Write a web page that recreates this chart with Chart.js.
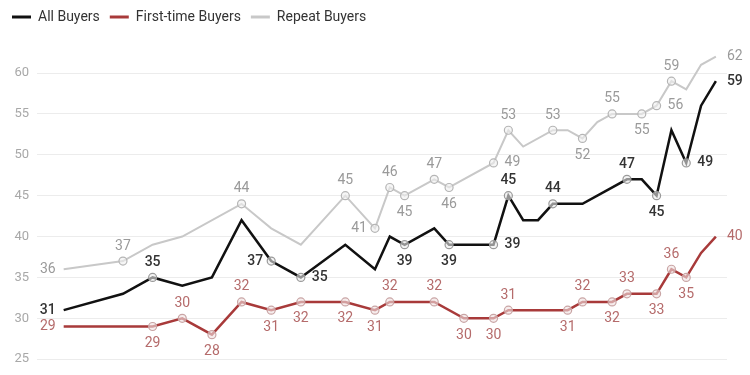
<!DOCTYPE html>
<html>
<head>
<meta charset="utf-8">
<script src="https://cdn.jsdelivr.net/npm/chart.js@4"></script>
<style>
  html, body { margin: 0; padding: 0; background: #fff; }
  #wrap { width: 750px; height: 375px; }
</style>
</head>
<body>
<div id="wrap"><canvas id="ageChart" width="750" height="375"></canvas></div>
<script>
// valori (anno, eta mediana)
var allYears = [1981, 1985, 1987, 1989, 1991, 1993, 1995, 1997, 2000, 2002, 2003, 2004, 2006, 2007, 2010, 2011, 2012, 2013, 2014, 2016, 2019, 2020, 2021, 2022, 2023, 2024, 2025];
var allValues = [31, 33, 35, 34, 35, 42, 37, 35, 39, 36, 40, 39, 41, 39, 39, 45, 42, 42, 44, 44, 47, 47, 45, 53, 49, 56, 59];
var allLabels = ["l", "", "a", "", "", "", "l", "r", "", "", "", "b", "", "b", "r", "a", "", "", "a", "", "a", "", "b", "", "r", "", "r"];

var firstYears = [1981, 1987, 1989, 1991, 1993, 1995, 1997, 2000, 2002, 2003, 2006, 2008, 2010, 2011, 2015, 2016, 2018, 2019, 2021, 2022, 2023, 2024, 2025];
var firstValues = [29, 29, 30, 28, 32, 31, 32, 32, 31, 32, 32, 30, 30, 31, 31, 32, 32, 33, 33, 36, 35, 38, 40];
var firstLabels = ["l", "b", "a", "b", "a", "b", "b", "b", "b", "a", "a", "b", "b", "a", "b", "a", "b", "a", "b", "a", "b", "", "r"];

var repeatYears = [1981, 1985, 1987, 1989, 1993, 1995, 1997, 2000, 2002, 2003, 2004, 2006, 2007, 2010, 2011, 2012, 2014, 2015, 2016, 2017, 2018, 2020, 2021, 2022, 2023, 2024, 2025];
var repeatValues = [36, 37, 39, 40, 44, 41, 39, 45, 41, 46, 45, 47, 46, 49, 53, 51, 53, 53, 52, 54, 55, 55, 56, 59, 58, 61, 62];
var repeatLabels = ["l", "a", "", "", "a", "", "", "a", "l", "a", "b", "a", "b", "r", "a", "", "a", "", "b", "", "a", "b", "r", "a", "", "", "r"];

var yTicks = [25, 30, 35, 40, 45, 50, 55, 60];

//funzione per costruire i punti
function toPoints(years, values) {
  return years.map(function(y, i) { return { x: y, y: values[i] }; });
}

//marker solo sui punti con etichetta (non agli estremi)
function markerRadius(labels) {
  return labels.map(function(p, i) {
    return (p && i > 0 && i < labels.length - 1) ? 4 : 0;
  });
}

//etichette dei valori vicino ai punti
var labelPlugin = {
  id: "pointLabels",
  afterDatasetsDraw: function(chart) {
    var ctx = chart.ctx;
    chart.data.datasets.forEach(function(ds, di) {
      var meta = chart.getDatasetMeta(di);
      ctx.save();
      ctx.font = (ds.labelWeight || "400") + " 14px Roboto";
      ctx.fillStyle = ds.labelColor;
      ctx.textBaseline = "middle";
      ds.labelPos.forEach(function(pos, i) {
        if (!pos) return;
        var pt = meta.data[i];
        var txt = String(ds.data[i].y);
        var x = pt.x, y = pt.y;
        if (pos === "a") { ctx.textAlign = "center"; y -= 15; }
        else if (pos === "b") { ctx.textAlign = "center"; y += 17; }
        else if (pos === "l") { ctx.textAlign = "right"; x -= 8; }
        else { ctx.textAlign = "left"; x += 11; }
        ctx.fillText(txt, x, y);
      });
      ctx.restore();
    });
  }
};

//spazio extra sotto la legenda
var legendGap = {
  id: "legendGap",
  beforeLayout: function(chart) {
    var lg = chart.legend;
    if (lg && !lg._gapDone) {
      var origFit = lg.fit;
      lg.fit = function() {
        origFit.apply(this, arguments);
        this.height += 39;
      };
      lg._gapDone = true;
    }
  }
};

var ctx = document.getElementById("ageChart");
var chart = new Chart(ctx, {
  type: "line",
  data: {
    datasets: [
      {
        label: "All Buyers",
        data: toPoints(allYears, allValues),
        labelPos: allLabels,
        labelColor: "#333333",
        labelWeight: "500",
        borderColor: "#111111",
        backgroundColor: "#111111",
        borderWidth: 2.5,
        pointRadius: markerRadius(allLabels),
        pointBackgroundColor: "rgba(235,235,235,0.6)",
        pointBorderColor: "#9a9a9a",
        pointBorderWidth: 1.2,
        order: 1
      },
      {
        label: "First-time Buyers",
        data: toPoints(firstYears, firstValues),
        labelPos: firstLabels,
        labelColor: "#b56b6b",
        borderColor: "#a83a3a",
        backgroundColor: "#a83a3a",
        borderWidth: 2.5,
        pointRadius: markerRadius(firstLabels),
        pointBackgroundColor: "rgba(240,225,225,0.6)",
        pointBorderColor: "#c9a5a5",
        pointBorderWidth: 1.2,
        order: 2
      },
      {
        label: "Repeat Buyers",
        data: toPoints(repeatYears, repeatValues),
        labelPos: repeatLabels,
        labelColor: "#9a9a9a",
        borderColor: "#c8c8c8",
        backgroundColor: "#c8c8c8",
        borderWidth: 2,
        pointRadius: markerRadius(repeatLabels),
        pointBackgroundColor: "rgba(240,240,240,0.6)",
        pointBorderColor: "#b5b5b5",
        pointBorderWidth: 1.2,
        order: 3
      }
    ]
  },
  options: {
    responsive: false,
    animation: false,
    layout: { padding: { top: 0, right: 23, bottom: 15, left: 2 } },
    elements: { line: { tension: 0, fill: false } },
    datasets: { line: { clip: false } },
    plugins: {
      tooltip: { enabled: false },
      legend: {
        position: "top",
        align: "start",
        labels: {
          font: { family: "Roboto", size: 14 },
          color: "#333333",
          boxWidth: 19,
          boxHeight: 3,
          padding: 10,
          generateLabels: function(chart) {
            var items = Chart.defaults.plugins.legend.labels.generateLabels(chart);
            items.forEach(function(it) { it.lineWidth = 0; });
            return items;
          }
        }
      }
    },
    scales: {
      x: {
        type: "linear",
        display: false,
        min: 1979.2,
        max: 2025.75
      },
      y: {
        min: 25,
        max: 60,
        afterBuildTicks: function(scale) {
          scale.ticks = yTicks.map(function(v) { return { value: v }; });
        },
        afterFit: function(scale) { scale.width = 35; },
        border: { display: false },
        grid: { color: "#ececec", lineWidth: 1, drawTicks: false },
        ticks: {
          color: "#a8a8a8",
          font: { family: "Roboto", size: 13 },
          padding: 8
        }
      }
    }
  },
  plugins: [labelPlugin, legendGap]
});
</script>
</body>
</html>
